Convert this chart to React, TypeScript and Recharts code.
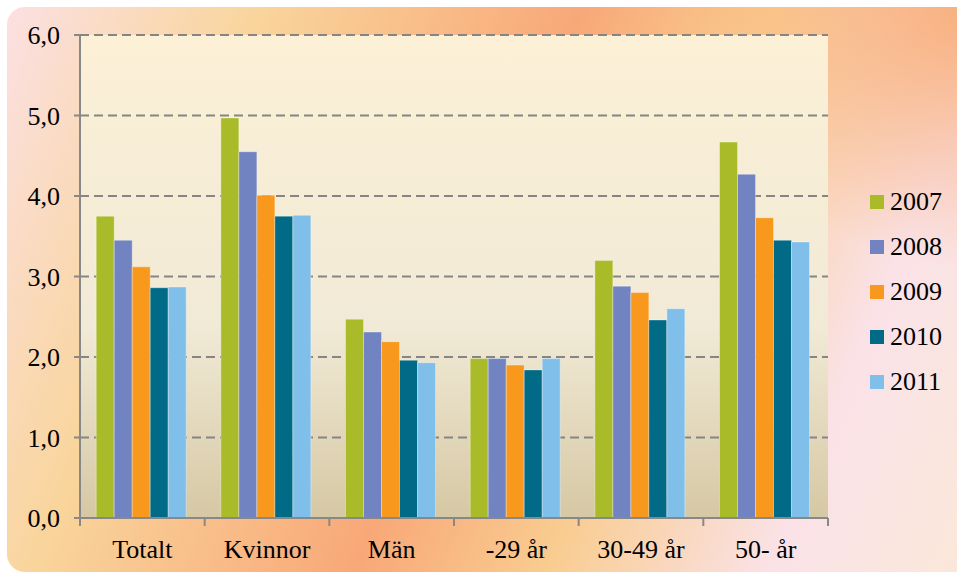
import { BarChart, Bar, CartesianGrid, XAxis, YAxis } from "recharts";

const categories = ["Totalt", "Kvinnor", "Män", "-29 år", "30-49 år", "50- år"];
const years = ["2007", "2008", "2009", "2010", "2011"];
const colors = ["#a9bb28", "#7283c1", "#f8981d", "#006a87", "#80bfe9"];

const v2007 = [3.75, 4.97, 2.47, 1.98, 3.2, 4.67];
const v2008 = [3.45, 4.55, 2.31, 1.98, 2.88, 4.27];
const v2009 = [3.12, 4.01, 2.19, 1.9, 2.8, 3.73];
const v2010 = [2.86, 3.75, 1.96, 1.84, 2.46, 3.45];
const v2011 = [2.87, 3.76, 1.93, 1.98, 2.6, 3.43];

const yTicks = [0, 1, 2, 3, 4, 5, 6];

const W = 957;
const H = 574;
const MARGIN = { top: 35, right: 129, bottom: 0, left: 0 };
const Y_WIDTH = 80;
const BAND = (W - MARGIN.right - Y_WIDTH) / categories.length;

const series = [v2007, v2008, v2009, v2010, v2011];
const data = categories.map((name, i) => {
  const row: Record<string, string | number> = { name };
  years.forEach((y, k) => {
    row[y] = series[k][i];
  });
  return row;
});

const font = "Liberation Serif, Times New Roman, Times, serif";

// category label plus a tick mark on the left edge of each band (and the right end)
function CatTick(props: any) {
  const { x, y, payload, index } = props;
  const left = x - BAND / 2;
  return (
    <g>
      <line x1={left} x2={left} y1={y} y2={y + 8} stroke="#888" strokeWidth={2} />
      {index === categories.length - 1 && (
        <line x1={x + BAND / 2} x2={x + BAND / 2} y1={y} y2={y + 8} stroke="#888" strokeWidth={2} />
      )}
      <text x={x} y={y + 40} textAnchor="middle" fill="#000" fontSize={26} style={{ fontFamily: font }}>
        {payload.value}
      </text>
    </g>
  );
}

export default function App() {
  return (
    <div style={{ position: "relative", width: W, height: H, background: "#fff", overflow: "hidden" }}>
      <style>{`body{margin:0}`}</style>
      <div
        style={{
          position: "absolute",
          left: 7,
          top: 7,
          width: 970,
          height: 565,
          borderRadius: 18,
          background:
            "radial-gradient(ellipse 300px 260px at 100% 0%, rgba(248,172,118,0.95), rgba(248,172,118,0) 100%), linear-gradient(112deg, #fbe0e2 0%, #f9d59c 21%, #f8a878 48%, #f9cc90 64%, #fae2e8 83%, #fbe8d8 100%)",
        }}
      />
      <div style={{ position: "absolute", left: 0, top: 0 }}>
        <BarChart
          width={W}
          height={H}
          data={data}
          margin={MARGIN}
          barCategoryGap="13%"
          barGap={0}
          style={{ fontFamily: font }}
        >
          <defs>
            <linearGradient id="plotBg" x1="0" y1="0" x2="0" y2="1">
              <stop offset="0%" stopColor="#fcf0d6" />
              <stop offset="60%" stopColor="#f1ead6" />
              <stop offset="100%" stopColor="#d6c8a4" />
            </linearGradient>
          </defs>
          <CartesianGrid
            vertical={false}
            fill="url(#plotBg)"
            fillOpacity={1}
            stroke="#858585"
            strokeWidth={2}
            strokeDasharray="9 5"
          />
          <XAxis
            dataKey="name"
            height={H - MARGIN.top - 483}
            axisLine={{ stroke: "#888", strokeWidth: 2 }}
            tickLine={false}
            tickSize={0}
            tickMargin={0}
            interval={0}
            tick={<CatTick />}
          />
          <YAxis
            width={Y_WIDTH}
            domain={[0, 6]}
            ticks={yTicks}
            interval={0}
            axisLine={{ stroke: "#888", strokeWidth: 2 }}
            tickLine={{ stroke: "#888", strokeWidth: 2 }}
            tickSize={6}
            tickMargin={14}
            tickFormatter={(v: number) => v.toFixed(1).replace(".", ",")}
            tick={{ fill: "#000", fontSize: 26, style: { fontFamily: font } }}
          />
          {years.map((y, k) => (
            <Bar
              key={y}
              dataKey={y}
              fill={colors[k]}
              stroke="rgba(255,255,255,0.35)"
              strokeWidth={1}
              isAnimationActive={false}
            />
          ))}
        </BarChart>
      </div>
      <div style={{ position: "absolute", left: 870, top: 179, fontFamily: font, fontSize: 26, color: "#000" }}>
        {years.map((y, k) => (
          <div key={y} style={{ display: "flex", alignItems: "center", height: 45 }}>
            <span style={{ width: 14, height: 14, background: colors[k], marginRight: 6 }} />
            <span style={{ lineHeight: "30px" }}>{y}</span>
          </div>
        ))}
      </div>
    </div>
  );
}
